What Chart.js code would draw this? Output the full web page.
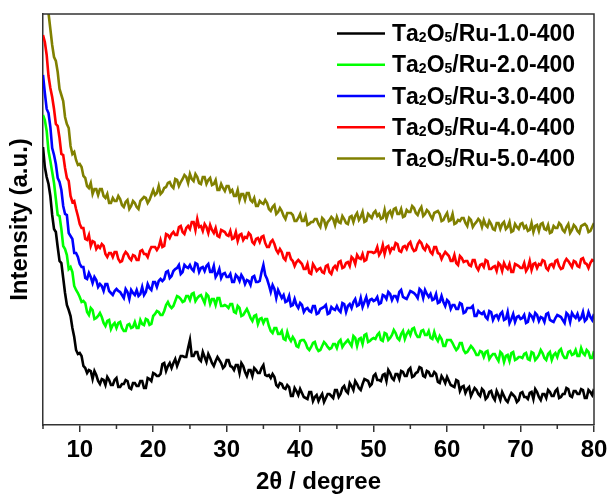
<!DOCTYPE html>
<html lang="en">
<head>
    <meta charset="UTF-8">
    <title>XRD patterns</title>
    <script src="https://cdn.jsdelivr.net/npm/chart.js"></script>
    <style>
        body {
            margin: 0;
            background: #ffffff;
        }
        .chart-box {
            width: 612px;
            height: 497px;
        }
    </style>
</head>
<body>
    <div class="chart-box">
        <canvas id="xrdChart" width="612" height="497"></canvas>
    </div>

    <script>
        // 2theta scan, 5 to 80 degree in 0.25 degree steps
        var twoTheta = [];
        for (var i = 0; i <= 300; i++) {
            twoTheta.push(5 + i * 0.25);
        }

        var seriesNames = ['Ta₂O₅/Ru-1.0-400', 'Ta₂O₅/Ru-2.0-400', 'Ta₂O₅/Ru-3.0-400', 'Ta₂O₅/Ru-4.0-400', 'Ta₂O₅/Ru-5.0-400'];
        var seriesColors = ['#000000', '#00ff00', '#0000ff', '#ff0000', '#808000'];

        var xTicks = [10, 20, 30, 40, 50, 60, 70, 80];
        var xMinorTicks = [5, 15, 25, 35, 45, 55, 65, 75];

        // intensities (a.u.)
        // *Whole: at 5.0, 5.5, 6.0 ... 80.0 ; *Mid: at 5.25, 5.75 ... 79.75
        var ru10Whole = [278, 248, 229, 196, 178, 162, 132, 115, 97, 75,
            72, 59, 52, 54, 54, 44, 46, 40, 45, 40,
            47, 38, 41, 44, 36, 42, 39, 44, 37, 46,
            52, 49, 51, 62, 59, 57, 66, 64, 69, 68,
            85, 69, 73, 64, 68, 71, 62, 64, 65, 57,
            65, 59, 55, 60, 62, 53, 55, 49, 55, 52,
            60, 49, 47, 48, 38, 41, 36, 38, 29, 34,
            36, 28, 26, 33, 28, 24, 31, 27, 31, 27,
            35, 31, 39, 32, 39, 44, 37, 41, 45, 39,
            49, 45, 44, 51, 55, 47, 51, 46, 53, 49,
            57, 49, 53, 57, 48, 53, 49, 51, 42, 46,
            48, 40, 38, 44, 38, 32, 38, 33, 35, 29,
            34, 28, 34, 25, 30, 33, 25, 28, 30, 23,
            32, 28, 26, 33, 36, 28, 31, 27, 33, 29,
            36, 28, 31, 36, 28, 34, 31, 35, 27, 33,
            36];
        var ru10Mid = [258, 241, 210, 193, 164, 147, 120, 109, 88, 71,
            69, 57, 55, 46, 50, 41, 45, 48, 40, 45,
            38, 41, 45, 37, 42, 39, 44, 37, 47, 44,
            51, 49, 61, 54, 62, 62, 59, 69, 68, 77,
            69, 73, 66, 73, 63, 67, 59, 68, 62, 59,
            65, 58, 60, 52, 59, 49, 55, 57, 52, 57,
            50, 50, 51, 40, 42, 37, 40, 29, 37, 30,
            32, 27, 33, 24, 30, 28, 23, 31, 29, 35,
            28, 37, 34, 42, 35, 41, 35, 46, 44, 41,
            51, 45, 50, 44, 52, 45, 51, 54, 49, 55,
            48, 52, 58, 49, 54, 49, 53, 43, 49, 42,
            44, 39, 45, 34, 39, 36, 29, 37, 31, 36,
            26, 33, 28, 34, 25, 29, 23, 32, 28, 25,
            33, 28, 32, 26, 33, 25, 31, 35, 29, 34,
            27, 31, 37, 29, 34, 31, 36, 27, 35, 30];

        var ru20Whole = [310, 294, 264, 242, 210, 196, 176, 156, 153, 135,
            128, 124, 113, 117, 106, 109, 108, 99, 105, 100,
            97, 103, 94, 100, 97, 103, 97, 101, 106, 100,
            109, 114, 110, 114, 123, 117, 124, 128, 123, 129,
            125, 132, 127, 130, 122, 129, 126, 120, 127, 119,
            119, 121, 113, 119, 109, 113, 112, 104, 110, 106,
            102, 106, 94, 97, 91, 94, 85, 87, 88, 79,
            84, 85, 77, 78, 83, 74, 79, 81, 76, 81,
            77, 85, 81, 85, 79, 87, 86, 81, 91, 84,
            87, 90, 85, 92, 85, 90, 92, 85, 94, 91,
            90, 97, 88, 94, 90, 94, 86, 87, 89, 79,
            85, 85, 78, 77, 82, 72, 76, 77, 70, 74,
            68, 74, 69, 71, 64, 71, 69, 64, 73, 66,
            68, 71, 66, 73, 65, 70, 72, 65, 73, 70,
            68, 76, 67, 73, 70, 75, 69, 72, 75, 67,
            74];
        var ru20Mid = [305, 274, 253, 226, 209, 179, 170, 158, 139, 132,
            123, 122, 110, 115, 107, 112, 102, 104, 96, 102,
            102, 97, 94, 101, 98, 97, 105, 100, 105, 101,
            111, 113, 110, 120, 119, 119, 129, 126, 124, 129,
            131, 124, 129, 126, 131, 121, 126, 127, 119, 120,
            117, 121, 112, 117, 110, 116, 107, 109, 101, 107,
            106, 99, 92, 97, 91, 86, 93, 84, 85, 78,
            85, 82, 75, 82, 77, 75, 83, 78, 77, 81,
            83, 78, 83, 82, 89, 79, 87, 90, 83, 86,
            86, 92, 84, 91, 87, 95, 87, 91, 86, 94,
            96, 91, 88, 95, 90, 87, 93, 84, 86, 79,
            85, 82, 75, 82, 75, 73, 79, 74, 70, 73,
            73, 66, 71, 67, 73, 63, 70, 72, 65, 68,
            67, 72, 65, 72, 67, 75, 67, 71, 65, 72,
            74, 70, 67, 74, 71, 69, 77, 70, 73, 67];

        var ru30Whole = [350, 316, 298, 270, 247, 235, 211, 192, 186, 172,
            161, 158, 146, 148, 148, 138, 139, 141, 134, 130,
            136, 133, 127, 133, 135, 130, 129, 138, 133, 137,
            143, 138, 146, 146, 154, 149, 156, 160, 153, 158,
            160, 154, 161, 157, 154, 161, 153, 148, 156, 151,
            148, 151, 143, 148, 150, 141, 144, 148, 143, 144,
            160, 146, 133, 136, 135, 127, 123, 129, 120, 120,
            122, 113, 117, 113, 119, 112, 117, 120, 112, 116,
            119, 113, 121, 119, 117, 126, 120, 118, 128, 125,
            124, 128, 122, 129, 133, 125, 129, 133, 128, 126,
            134, 132, 127, 134, 135, 128, 125, 131, 123, 123,
            125, 116, 120, 116, 121, 113, 117, 119, 109, 112,
            113, 106, 113, 109, 106, 113, 106, 102, 111, 108,
            106, 110, 103, 109, 112, 104, 107, 111, 105, 103,
            110, 108, 102, 110, 112, 107, 105, 113, 106, 108,
            111];
        var ru30Mid = [332, 312, 277, 261, 243, 219, 210, 189, 172, 168,
            158, 147, 152, 142, 145, 141, 134, 141, 132, 134,
            134, 130, 136, 126, 132, 135, 131, 130, 141, 135,
            143, 144, 144, 153, 147, 154, 157, 151, 160, 157,
            156, 162, 153, 158, 159, 153, 159, 151, 147, 152,
            148, 143, 150, 144, 147, 145, 140, 149, 143, 153,
            150, 140, 140, 127, 131, 130, 124, 119, 126, 117,
            120, 116, 114, 119, 111, 116, 118, 111, 118, 115,
            115, 122, 113, 121, 123, 119, 127, 123, 120, 126,
            125, 121, 130, 126, 131, 129, 125, 135, 127, 130,
            133, 130, 136, 127, 131, 131, 126, 122, 129, 119,
            123, 120, 116, 122, 112, 117, 117, 109, 114, 111,
            108, 114, 105, 110, 111, 105, 113, 106, 103, 109,
            107, 102, 111, 105, 110, 108, 103, 112, 104, 107,
            109, 105, 112, 103, 109, 111, 107, 104, 113, 105];

        var ru40Whole = [390, 370, 337, 316, 299, 271, 257, 244, 223, 216,
            201, 197, 185, 179, 183, 179, 181, 171, 172, 168,
            173, 163, 170, 171, 165, 169, 165, 175, 171, 174,
            178, 175, 185, 179, 190, 191, 190, 198, 193, 197,
            196, 203, 206, 199, 201, 192, 195, 197, 188, 194,
            190, 194, 187, 184, 191, 188, 192, 183, 186, 183,
            189, 178, 183, 181, 172, 173, 165, 172, 164, 163,
            163, 156, 161, 151, 158, 156, 153, 159, 153, 157,
            156, 164, 158, 163, 168, 161, 167, 171, 165, 173,
            172, 178, 173, 171, 179, 177, 182, 174, 178, 176,
            183, 174, 181, 182, 175, 178, 171, 178, 171, 170,
            171, 164, 170, 160, 167, 164, 160, 165, 158, 160,
            158, 164, 156, 159, 162, 154, 158, 161, 153, 160,
            157, 162, 157, 155, 162, 161, 165, 157, 160, 158,
            165, 156, 163, 164, 158, 163, 158, 167, 161, 162,
            164];
        var ru40Mid = [383, 349, 328, 301, 287, 270, 247, 229, 224, 209,
            197, 186, 190, 184, 176, 177, 179, 168, 172, 173,
            166, 164, 173, 167, 170, 165, 174, 171, 168, 178,
            178, 178, 178, 191, 187, 193, 190, 199, 191, 199,
            203, 195, 198, 194, 198, 200, 192, 189, 195, 193,
            189, 186, 193, 190, 185, 187, 190, 181, 187, 188,
            182, 178, 185, 175, 176, 167, 172, 166, 159, 165,
            161, 156, 152, 161, 154, 157, 152, 160, 151, 159,
            163, 157, 162, 159, 166, 170, 166, 164, 173, 173,
            173, 170, 180, 178, 173, 176, 181, 173, 179, 181,
            177, 175, 184, 177, 180, 173, 178, 172, 166, 173,
            169, 164, 162, 169, 163, 164, 159, 165, 155, 161,
            165, 156, 158, 154, 160, 162, 156, 153, 161, 159,
            157, 154, 164, 161, 157, 160, 164, 155, 161, 164,
            159, 157, 166, 161, 164, 159, 166, 162, 157, 165];

        var ru50Whole = [449, 417, 396, 368, 353, 330, 308, 297, 271, 265,
            261, 249, 239, 242, 236, 230, 236, 227, 222, 227,
            224, 226, 218, 225, 219, 222, 216, 226, 227, 225,
            235, 232, 231, 237, 242, 239, 246, 239, 246, 248,
            251, 244, 248, 241, 248, 245, 240, 245, 235, 237,
            239, 233, 229, 235, 231, 225, 232, 223, 219, 224,
            221, 222, 214, 220, 213, 214, 206, 212, 210, 204,
            211, 204, 200, 203, 206, 201, 207, 198, 205, 206,
            208, 202, 206, 201, 209, 209, 205, 213, 204, 209,
            212, 209, 206, 215, 212, 209, 217, 211, 208, 215,
            213, 217, 210, 218, 211, 213, 206, 213, 211, 205,
            212, 205, 201, 205, 207, 202, 207, 198, 203, 204,
            205, 198, 201, 195, 202, 201, 196, 203, 194, 198,
            201, 197, 194, 202, 199, 194, 202, 195, 192, 199,
            197, 200, 193, 201, 195, 198, 192, 200, 199, 194,
            202];
        var ru50Mid = [431, 412, 380, 364, 336, 324, 301, 279, 273, 260,
            258, 247, 237, 231, 236, 236, 229, 231, 222, 224,
            229, 220, 223, 216, 224, 218, 224, 228, 222, 230,
            230, 239, 233, 238, 243, 237, 245, 243, 250, 242,
            246, 251, 242, 248, 241, 247, 241, 235, 241, 234,
            239, 235, 229, 225, 231, 232, 225, 227, 219, 222,
            225, 216, 218, 211, 217, 209, 212, 212, 204, 207,
            204, 209, 201, 203, 206, 198, 205, 203, 208, 200,
            203, 209, 202, 208, 203, 212, 208, 203, 211, 207,
            214, 211, 207, 206, 214, 216, 211, 216, 209, 213,
            219, 212, 215, 209, 215, 209, 212, 214, 204, 209,
            204, 211, 202, 204, 207, 199, 205, 201, 206, 198,
            200, 204, 196, 202, 196, 203, 198, 193, 201, 196,
            202, 199, 195, 193, 200, 201, 196, 200, 193, 197,
            202, 195, 198, 192, 200, 194, 199, 201, 193, 198];

        // merge the two halves of each scan in 2theta order
        function mergeScan(whole, mid) {
            var out = [];
            for (var j = 0; j < whole.length; j++) {
                out.push(whole[j]);
                if (j < mid.length) out.push(mid[j]);
            }
            return out;
        }

        var allSeries = [
            mergeScan(ru10Whole, ru10Mid),
            mergeScan(ru20Whole, ru20Mid),
            mergeScan(ru30Whole, ru30Mid),
            mergeScan(ru40Whole, ru40Mid),
            mergeScan(ru50Whole, ru50Mid)
        ];

        var datasets = allSeries.map(function (values, k) {
            return {
                label: seriesNames[k],
                data: values.map(function (v, j) { return { x: twoTheta[j], y: v }; }),
                borderColor: seriesColors[k],
                borderWidth: 2.6,
                pointRadius: 0,
                tension: 0,
                fill: false
            };
        });

        var frameColor = '#333333';

        // frame on top/right, minor ticks and the legend inside the plot
        var xrdDecor = {
            id: 'xrdDecor',
            afterDraw: function (chart) {
                var ctx = chart.ctx;
                var area = chart.chartArea;
                var xs = chart.scales.x;
                ctx.save();
                ctx.strokeStyle = frameColor;
                ctx.lineWidth = 1.5;
                ctx.beginPath();
                ctx.moveTo(area.left, area.top);
                ctx.lineTo(area.right, area.top);
                ctx.lineTo(area.right, area.bottom);
                ctx.stroke();

                ctx.beginPath();
                xMinorTicks.forEach(function (t) {
                    var px = xs.getPixelForValue(t);
                    ctx.moveTo(px, area.bottom);
                    ctx.lineTo(px, area.bottom + 4);
                });
                ctx.stroke();

                // legend
                var subs = '₀₁₂₃₄₅₆₇₈₉';
                var big = 'bold 23px "Liberation Sans", Arial, sans-serif';
                var small = 'bold 14px "Liberation Sans", Arial, sans-serif';
                ctx.textBaseline = 'alphabetic';
                ctx.textAlign = 'left';
                chart.data.datasets.forEach(function (ds, k) {
                    var ly = 33.5 + k * 31.25;
                    ctx.strokeStyle = ds.borderColor;
                    ctx.lineWidth = 2.5;
                    ctx.beginPath();
                    ctx.moveTo(337, ly);
                    ctx.lineTo(385, ly);
                    ctx.stroke();

                    var tx = 392;
                    var base = ly + 7.5;
                    ctx.fillStyle = '#000000';
                    for (var c = 0; c < ds.label.length; c++) {
                        var ch = ds.label[c];
                        var si = subs.indexOf(ch);
                        if (si >= 0) {
                            ctx.font = small;
                            ctx.fillText(String(si), tx, base + 1);
                            tx += ctx.measureText(String(si)).width;
                        } else {
                            ctx.font = big;
                            ctx.fillText(ch, tx, base);
                            tx += ctx.measureText(ch).width;
                        }
                    }
                });
                ctx.restore();
            }
        };

        var ctx = document.getElementById('xrdChart').getContext('2d');
        var xrdChart = new Chart(ctx, {
            type: 'line',
            data: { datasets: datasets },
            options: {
                responsive: false,
                animation: false,
                layout: { padding: { top: 14, right: 18, left: 0, bottom: 0 } },
                plugins: {
                    legend: { display: false },
                    tooltip: { enabled: false }
                },
                scales: {
                    x: {
                        type: 'linear',
                        min: 5,
                        max: 80,
                        afterBuildTicks: function (scale) {
                            scale.ticks = xTicks.map(function (v) { return { value: v }; });
                        },
                        afterFit: function (scale) { scale.height = 72; },
                        ticks: {
                            color: '#000000',
                            padding: 4,
                            maxRotation: 0,
                            font: { family: '"Liberation Sans", Arial, sans-serif', size: 24, weight: 'bold' }
                        },
                        grid: {
                            drawOnChartArea: false,
                            drawTicks: true,
                            tickLength: 7,
                            color: frameColor,
                            lineWidth: 1.5
                        },
                        border: { display: true, color: frameColor, width: 1.5 },
                        title: {
                            display: true,
                            text: '2θ / degree',
                            color: '#000000',
                            padding: { top: 0, bottom: 0 },
                            font: { family: '"Liberation Sans", Arial, sans-serif', size: 24, weight: 'bold' }
                        }
                    },
                    y: {
                        min: 0,
                        max: 411,
                        afterFit: function (scale) { scale.width = 43; },
                        ticks: { display: false },
                        grid: { display: false, drawTicks: false },
                        border: { display: true, color: frameColor, width: 1.5 },
                        title: {
                            display: true,
                            text: 'Intensity (a.u.)',
                            color: '#000000',
                            padding: { top: 6, bottom: 0 },
                            font: { family: '"Liberation Sans", Arial, sans-serif', size: 24, weight: 'bold' }
                        }
                    }
                }
            },
            plugins: [xrdDecor]
        });
    </script>
</body>
</html>
